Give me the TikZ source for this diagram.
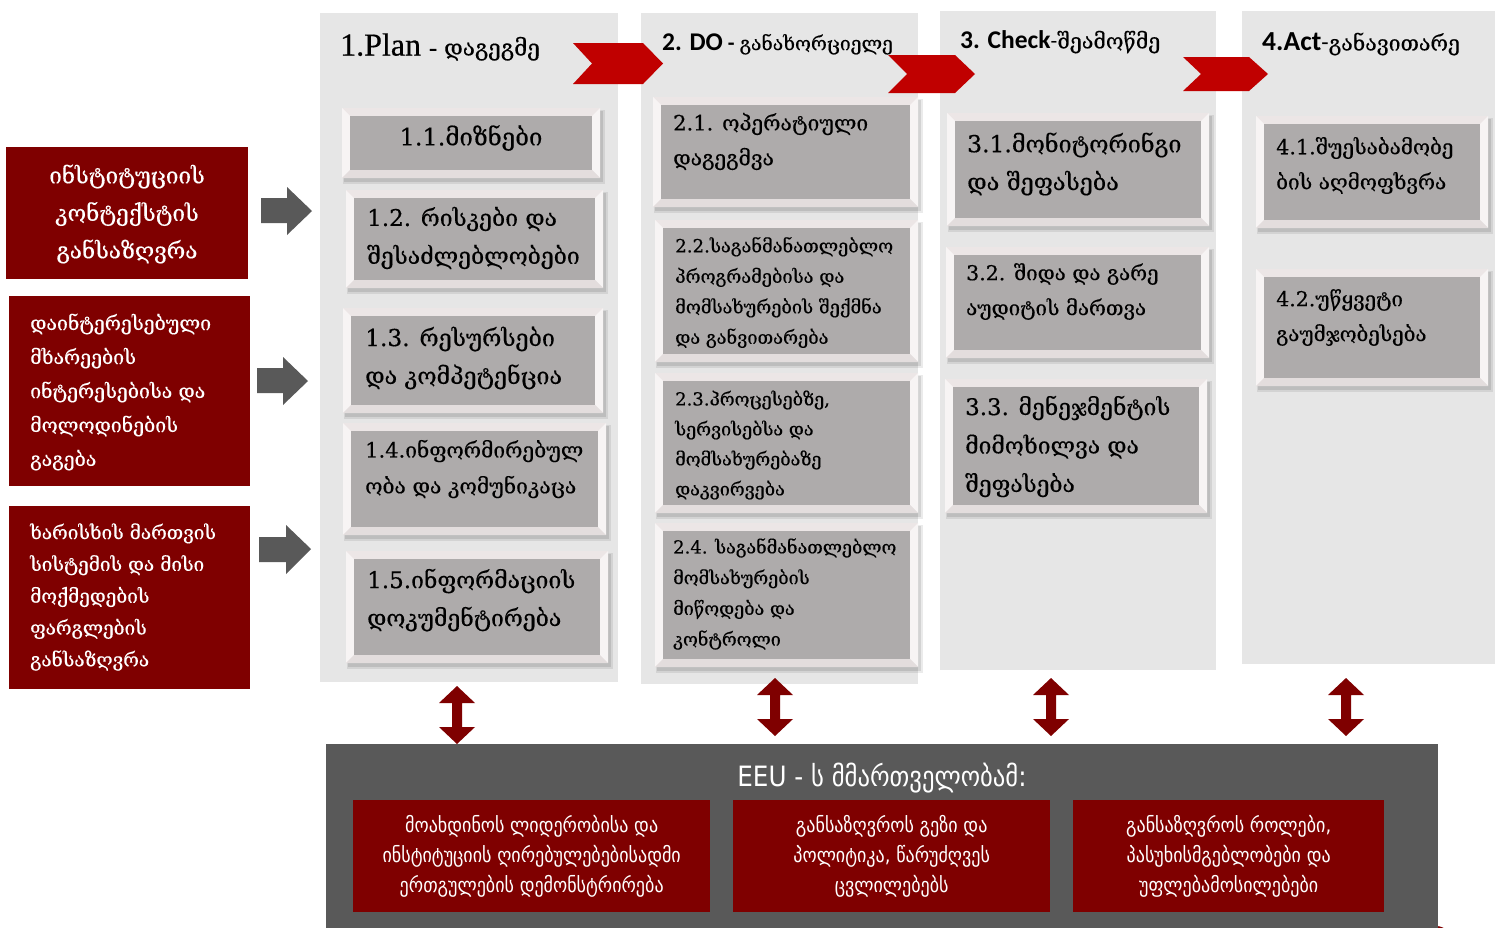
\documentclass[tikz,border=0pt]{standalone}
\usepackage{fontspec}
\usetikzlibrary{calc}
\newfontfamily\geo[FakeBold=0.4]{DejaVu Serif}
\newfontfamily\geosans[FakeStretch=0.88]{DejaVu Sans}
\newfontfamily\calf{Carlito}
\newfontfamily\tmsf[FakeBold=0.6]{Liberation Serif}
\definecolor{colbg}{HTML}{E6E6E6}
\definecolor{chevred}{HTML}{C00000}
\definecolor{maroon}{HTML}{7F0000}
\definecolor{dgray}{HTML}{595959}
\definecolor{ingray}{HTML}{AEABAB}
\definecolor{bevtop}{HTML}{ECE6E6}
\definecolor{bevside}{HTML}{F7F4F4}
\definecolor{bevbot}{HTML}{E3DDDD}
\newcommand\bevbox[5]{%
  \fill[black,opacity=.08] (#2+1,#3+2) rectangle (#4+5,#5+6);
  \fill[black,opacity=.10] (#2+2,#3+3) rectangle (#4+3,#5+4);
  \node[bevnode,minimum width=#4-#2,minimum height=#5-#3] (#1) at (#2,#3) {};
  \fill[bevside] (#2,#3) -- (#2+8,#3+8) -- (#2+8,#5-8) -- (#2,#5) -- cycle;
  \fill[bevside] (#4,#3) -- (#4-8,#3+8) -- (#4-8,#5-8) -- (#4,#5) -- cycle;
  \fill[bevbot] (#2,#5) -- (#2+8,#5-8) -- (#4-8,#5-8) -- (#4,#5) -- cycle;
  \fill[ingray] (#2+8,#3+8) rectangle (#4-8,#5-8);
}
\newcommand\dblarrow[3]{%
  \fill[maroon] (#1,#2) -- (#1+18,#2+17) -- (#1+5,#2+17) -- (#1+5,#3-17) -- (#1+18,#3-17) -- (#1,#3)
   -- (#1-18,#3-17) -- (#1-5,#3-17) -- (#1-5,#2+17) -- (#1-18,#2+17) -- cycle;
}
\begin{document}
\begin{tikzpicture}[x=1pt,y=-1pt,
  colnode/.style={fill=colbg,inner sep=0,anchor=north west,draw=none},
  bevnode/.style={fill=bevtop,inner sep=0,anchor=north west,draw=none},
  lbox/.style={fill=maroon,inner sep=0,anchor=north west,draw=none},
  ltext/.style={text=white,font=\geo\fontsize{19.5}{34}\selectfont,align=left,inner sep=0,anchor=west},
  btext/.style={text=black,font=\geo\fontsize{23}{38}\selectfont,align=left,inner sep=0,anchor=west},
  mtext/.style={text=black,font=\geo\fontsize{20.5}{35}\selectfont,align=left,inner sep=0,anchor=west},
  stext/.style={text=black,font=\geo\fontsize{18.2}{30.5}\selectfont,align=left,inner sep=0,anchor=west},
  rtext/.style={text=white,font=\geosans\fontsize{20.5}{30}\selectfont,align=center,inner sep=0},
  hdr/.style={inner sep=0,anchor=west,text=black}]
\useasboundingbox (0,0) rectangle (1495,927);
\clip (0,0) rectangle (1495,927);
\fill[white] (0,0) rectangle (1495,927);

% columns
\node[colnode,minimum width=298,minimum height=669] (c1) at (320,13) {};
\node[colnode,minimum width=277,minimum height=671] (c2) at (641,13) {};
\node[colnode,minimum width=276,minimum height=659] (c3) at (940,11) {};
\node[colnode,minimum width=253,minimum height=653] (c4) at (1242,11) {};

% chevrons
\fill[chevred] (573,43) -- (643,43) -- (663,63.5) -- (643,84) -- (573,84) -- (592,63.5) -- cycle;
\fill[chevred] (888,55) -- (955,55) -- (975,74) -- (955,93) -- (888,93) -- (907,74) -- cycle;
\fill[chevred] (1183,57) -- (1249,57) -- (1268,74) -- (1249,91) -- (1183,91) -- (1201,74) -- cycle;

% headers
\node[hdr] (h1) at (340,47) {{\tmsf\fontsize{32}{32}\selectfont 1.Plan}\hspace{8pt}{\tmsf\fontsize{24}{24}\selectfont -}\hspace{7pt}{\geo\fontsize{22.5}{22}\selectfont დაგეგმე}};
\node[hdr] (h2) at (662,44) {{\calf\bfseries\fontsize{25.5}{25}\selectfont 2. DO}\hspace{5pt}{\calf\bfseries\fontsize{22}{22}\selectfont -}\hspace{5pt}{\geo\fontsize{19.3}{19}\selectfont განახორციელე}};
\node[hdr] (h3) at (960,42) {{\calf\bfseries\fontsize{25.5}{25}\selectfont 3. Check}{\calf\fontsize{22}{22}\selectfont -}{\geo\fontsize{21.3}{21}\selectfont შეამოწმე}};
\node[hdr] (h4) at (1262,44) {{\calf\bfseries\fontsize{27.5}{27}\selectfont 4.Act}{\calf\fontsize{24}{24}\selectfont -}{\geo\fontsize{21.3}{21}\selectfont განავითარე}};

% left boxes
\node[lbox,minimum width=242,minimum height=132] (L1) at (6,147) {};
\node[lbox,minimum width=241,minimum height=190] (L2) at (9,296) {};
\node[lbox,minimum width=241,minimum height=183] (L3) at (9,506) {};
\node[text=white,font=\geo\fontsize{22.5}{37.5}\selectfont,align=center,inner sep=0] (l1t) at (127,214) {ინსტიტუციის\\კონტექსტის\\განსაზღვრა};
\node[ltext] (l2t) at (30,392) {დაინტერესებული\\მხარეების\\ინტერესებისა და\\მოლოდინების\\გაგება};
\node[ltext,font=\geo\fontsize{19}{31.8}\selectfont] (l3t) at (30,597) {ხარისხის მართვის\\სისტემის და მისი\\მოქმედების\\ფარგლების\\განსაზღვრა};

% grey arrows
\fill[dgray] (261,198) -- (287,198) -- (287,187) -- (312,211) -- (287,235) -- (287,223) -- (261,223) -- cycle;
\fill[dgray] (257,368) -- (283,368) -- (283,357) -- (308,381) -- (283,405) -- (283,393) -- (257,393) -- cycle;
\fill[dgray] (259,537) -- (286,537) -- (286,525) -- (311,549) -- (286,574) -- (286,562) -- (259,562) -- cycle;

% column 1
\bevbox{b11}{342}{108}{600}{178}
\bevbox{b12}{346}{190}{603}{288}
\bevbox{b13}{343}{308}{603}{413}
\bevbox{b14}{343}{423}{606}{535}
\bevbox{b15}{346}{551}{608}{663}
\node[btext,anchor=center,font=\geo\fontsize{24}{38}\selectfont] (t11) at (471,138) {1.1.მიზნები};
\node[btext] (t12) at (367,238) {1.2. რისკები და\\შესაძლებლობები};
\node[btext,font=\geo\fontsize{23.3}{38}\selectfont] (t13) at (365,358) {1.3. რესურსები\\და კომპეტენცია};
\node[btext,font=\geo\fontsize{21}{36}\selectfont] (t14) at (365,469) {1.4.ინფორმირებულ\\ობა და კომუნიკაცა};
\node[btext] (t15) at (367,600) {1.5.ინფორმაციის\\დოკუმენტირება};

% column 2
\bevbox{b21}{653}{97}{918}{207}
\bevbox{b22}{655}{220}{918}{362}
\bevbox{b23}{655}{373}{918}{513}
\bevbox{b24}{655}{523}{918}{667}
\node[btext,font=\geo\fontsize{21}{35}\selectfont] (t21) at (673,141.5) {2.1. ოპერატიული\\დაგეგმვა};
\node[stext] (t22) at (675,292.5) {2.2.საგანმანათლებლო\\პროგრამებისა და\\მომსახურების შექმნა\\და განვითარება};
\node[stext,font=\geo\fontsize{18}{30}\selectfont] (t23) at (675,445) {2.3.პროცესებზე,\\სერვისებსა და\\მომსახურებაზე\\დაკვირვება};
\node[stext,font=\geo\fontsize{18}{30.7}\selectfont] (t24) at (673,594) {2.4. საგანმანათლებლო\\მომსახურების\\მიწოდება და\\კონტროლი};

% column 3
\bevbox{b31}{947}{113}{1209}{226}
\bevbox{b32}{946}{247}{1209}{358}
\bevbox{b33}{945}{379}{1207}{513}
\node[btext,font=\geo\fontsize{23.4}{38}\selectfont] (t31) at (967,164) {3.1.მონიტორინგი\\და შეფასება};
\node[btext,font=\geo\fontsize{20.5}{35}\selectfont] (t32) at (966,291.5) {3.2. შიდა და გარე\\აუდიტის მართვა};
\node[btext,font=\geo\fontsize{22.9}{38.5}\selectfont] (t33) at (965,446.5) {3.3. მენეჯმენტის\\მიმოხილვა და\\შეფასება};

% column 4
\bevbox{b41}{1256}{116}{1488}{228}
\bevbox{b42}{1256}{269}{1488}{386}
\node[mtext,font=\geo\fontsize{20.7}{35}\selectfont] (t41) at (1276,165.5) {4.1.შუესაბამობე\\ბის აღმოფხვრა};
\node[mtext] (t42) at (1276,317.5) {4.2.უწყვეტი\\გაუმჯობესება};

% corner fragments
\fill[maroon] (-8,941) circle (15);
\fill[maroon] (1436,942) circle (16);

% bottom box
\node[fill=dgray,inner sep=0,anchor=north west,minimum width=1112,minimum height=190] (gov) at (326,744) {};
\node[text=white,font=\geosans\fontsize{28}{27}\selectfont,inner sep=0] (govt) at (882,778) {EEU - ს მმართველობამ:};
\node[lbox,minimum width=357,minimum height=112] (R1) at (353,800) {};
\node[lbox,minimum width=317,minimum height=112] (R2) at (733,800) {};
\node[lbox,minimum width=311,minimum height=112] (R3) at (1073,800) {};
\node[rtext] (r1t) at (R1.center) {მოახდინოს ლიდერობისა და\\ინსტიტუციის ღირებულებებისადმი\\ერთგულების დემონსტრირება};
\node[rtext] (r2t) at (R2.center) {განსაზღვროს გეზი და\\პოლიტიკა, წარუძღვეს\\ცვლილებებს};
\node[rtext] (r3t) at (R3.center) {განსაზღვროს როლები,\\პასუხისმგებლობები და\\უფლებამოსილებები};

% double arrows
\dblarrow{457}{686}{744}
\dblarrow{775}{678}{736}
\dblarrow{1051}{678}{736}
\dblarrow{1346}{678}{736}
\end{tikzpicture}
\end{document}
